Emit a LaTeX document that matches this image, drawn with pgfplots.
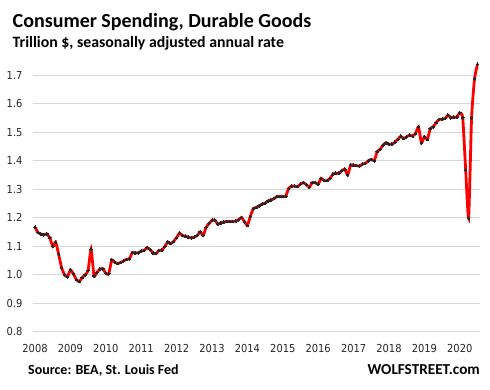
\documentclass[border=0pt]{standalone}
\usepackage{fontspec}
\setmainfont{Carlito}
\newfontfamily\tickfont{DejaVu Sans Condensed}
\usepackage{pgfplots}
\usepackage{pgfplotstable}
\pgfplotsset{compat=1.18}
\pgfplotstableread{
i v
0 1.167
1 1.148
2 1.143
3 1.140
4 1.143
5 1.130
6 1.100
7 1.114
8 1.072
9 1.025
10 1.000
11 0.993
12 1.017
13 1.003
14 0.983
15 0.976
16 0.990
17 1.000
18 1.015
19 1.090
20 0.996
21 1.008
22 1.020
23 1.021
24 1.005
25 1.003
26 1.052
27 1.044
28 1.039
29 1.043
30 1.048
31 1.054
32 1.056
33 1.078
34 1.076
35 1.077
36 1.083
37 1.085
38 1.095
39 1.088
40 1.077
41 1.074
42 1.085
43 1.086
44 1.099
45 1.115
46 1.109
47 1.117
48 1.130
49 1.146
50 1.137
51 1.135
52 1.132
53 1.129
54 1.132
55 1.138
56 1.150
57 1.138
58 1.166
59 1.180
60 1.191
61 1.191
62 1.178
63 1.182
64 1.185
65 1.187
66 1.187
67 1.187
68 1.188
69 1.193
70 1.201
71 1.186
72 1.173
73 1.205
74 1.232
75 1.236
76 1.242
77 1.248
78 1.251
79 1.259
80 1.262
81 1.267
82 1.274
83 1.274
84 1.274
85 1.276
86 1.303
87 1.311
88 1.311
89 1.309
90 1.318
91 1.323
92 1.316
93 1.307
94 1.323
95 1.323
96 1.318
97 1.338
98 1.330
99 1.330
100 1.338
101 1.353
102 1.356
103 1.356
104 1.365
105 1.370
106 1.350
107 1.385
108 1.384
109 1.383
110 1.381
111 1.388
112 1.391
113 1.400
114 1.405
115 1.400
116 1.432
117 1.440
118 1.455
119 1.463
120 1.458
121 1.458
122 1.465
123 1.475
124 1.486
125 1.478
126 1.484
127 1.490
128 1.486
129 1.496
130 1.519
131 1.463
132 1.484
133 1.475
134 1.513
135 1.519
136 1.534
137 1.545
138 1.546
139 1.548
140 1.560
141 1.551
142 1.553
143 1.553
144 1.568
145 1.551
146 1.367
147 1.198
148 1.551
149 1.687
150 1.739
}\durable
\begin{document}
\begin{tikzpicture}[x=1pt,y=1pt]
\useasboundingbox (0,0) rectangle (490,-389);
\begin{axis}[
  at={(33pt,-331.7pt)}, anchor=south west,
  scale only axis, width=447pt, height=270.7pt,
  xmin=2007.943, xmax=2020.571, ymin=0.8, ymax=1.75,
  axis line style={draw=none},
  major tick length=0pt,
  ytick={0.8,0.9,1.0,1.1,1.2,1.3,1.4,1.5,1.6,1.7},
  xtick={2008,2009,2010,2011,2012,2013,2014,2015,2016,2017,2018,2019,2020},
  ymajorgrids, grid style={draw=black!16, line width=0.9pt},
  tick label style={font=\tickfont\fontsize{11}{13}\selectfont, text=black!85},
  /pgf/number format/assume math mode=true,
  yticklabel style={/pgf/number format/fixed, /pgf/number format/fixed zerofill, /pgf/number format/precision=1, xshift=-7pt},
  xticklabel style={/pgf/number format/1000 sep={}, yshift=-9pt},
  clip=false,
]
\addplot[red, line width=2.8pt, smooth, tension=0.3, mark=*, mark size=1.3pt, mark options={draw=black!85, fill=black!85, line width=0pt}]
  table[x expr=2008+\thisrow{i}/12, y=v] {\durable};
\end{axis}
\node[anchor=base west, inner sep=0, font=\bfseries\fontsize{20}{24}\selectfont] at (12.5,-27.3) {Consumer Spending, Durable Goods};
\node[anchor=base west, inner sep=0, font=\bfseries\fontsize{15.8}{18}\selectfont] at (12.5,-47.7) {Trillion \$, seasonally adjusted annual rate};
\node[anchor=base west, inner sep=0, font=\bfseries\fontsize{14}{16}\selectfont] at (28,-374) {Source: BEA, St. Louis Fed};
\node[anchor=base east, inner sep=0, font=\bfseries\fontsize{15.2}{18}\selectfont] at (480,-374) {WOLFSTREET.com};
\end{tikzpicture}
\end{document}
